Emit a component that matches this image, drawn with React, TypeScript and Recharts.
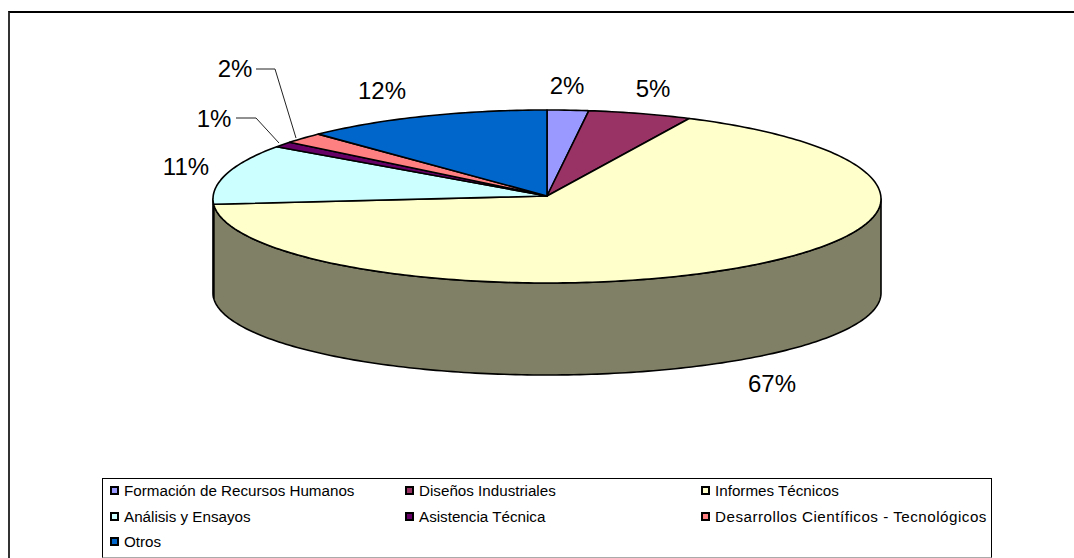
import { Pie, PieChart, Legend } from "recharts";

const categories = [
  "Formación de Recursos Humanos",
  "Diseños Industriales",
  "Informes Técnicos",
  "Análisis y Ensayos",
  "Asistencia Técnica",
  "Desarrollos Científicos - Tecnológicos",
  "Otros",
];
const shares = [2, 5, 67, 11, 1, 2, 12];
const topColors = ["#9999FF", "#993366", "#FFFFCC", "#CCFFFF", "#660066", "#FF8080", "#0066CC"];
const wallColors = ["#4D4D80", "#4D1A33", "#808066", "#808066", "#330033", "#804040", "#003366"];

const data = categories.map((name, i) => ({
  name,
  value: shares[i],
  fill: topColors[i],
  wall: wallColors[i],
}));

// disc geometry in page pixels, the back of the rim bulges a bit more than the front
const CX = 547;
const TIP_Y = 196;
const RIM_Y = 199;
const RX = 334;
const RY_BACK = 89;
const RY_FRONT = 84;
const WALL_Y = 293;
const RY_WALL = 82;

const FONT = "'Liberation Sans', Arial, sans-serif";

// where each percentage sits, and its leader line if it has one
const labelSpots = [
  { x: 567, y: 85 },
  { x: 653, y: 88 },
  { x: 772, y: 383 },
  { x: 186, y: 166 },
  { x: 214, y: 118, line: "M236,118 L256,118 L279,143" },
  { x: 235, y: 68, line: "M256,69 L275,69 L296,138" },
  { x: 382, y: 90 },
];

const RAD = Math.PI / 180;

function rimPoint(deg: number) {
  const s = Math.sin(deg * RAD);
  return [CX + RX * Math.cos(deg * RAD), RIM_Y - s * (s > 0 ? RY_BACK : RY_FRONT)];
}

function wallPoint(deg: number) {
  return [CX + RX * Math.cos(deg * RAD), WALL_Y - RY_WALL * Math.sin(deg * RAD)];
}

// walks an angle range in small steps, angles run clockwise so they go down
function trace(from: number, to: number, point: (deg: number) => number[]) {
  const pts: string[] = [];
  const sign = to > from ? 1 : -1;
  for (let a = from; sign * (to - a) > 0; a += sign) pts.push(point(a).join(","));
  pts.push(point(to).join(","));
  return pts;
}

// Recharts hands out circular sectors, this flattens them into the top of the disc
function TopSlice(props: any) {
  const { startAngle, endAngle, fill } = props;
  const d = `M${CX},${TIP_Y} L${trace(startAngle, endAngle, rimPoint).join(" L")} Z`;
  return <path d={d} fill={fill} stroke="#000" strokeWidth={1.6} strokeLinejoin="round" />;
}

// only the part of a slice on the front half of the disc shows a wall
function WallSlice(props: any) {
  const { startAngle, endAngle, payload } = props;
  const from = Math.min(startAngle, 0);
  const to = Math.max(endAngle, -180);
  if (from <= to) return null;
  const d = `M${trace(from, to, rimPoint).join(" L")} L${trace(to, from, wallPoint).join(" L")} Z`;
  return <path d={d} fill={payload.wall} stroke="#000" strokeWidth={1.6} strokeLinejoin="round" />;
}

function PercentLabel(props: any) {
  const spot = labelSpots[props.index];
  return (
    <g>
      {spot.line && <path d={spot.line} fill="none" stroke="#222" strokeWidth={1} />}
      <text x={spot.x} y={spot.y} textAnchor="middle" dominantBaseline="central" fontFamily={FONT} fontSize={24} fill="#000">
        {`${props.value}%`}
      </text>
    </g>
  );
}

function LegendBox(props: any) {
  const items = ((props.payload ?? []) as any[]).filter((item) => item.type !== "none");
  return (
    <div
      style={{
        boxSizing: "border-box",
        width: 890,
        height: 80,
        borderTop: "1px solid #000",
        borderLeft: "1px solid #000",
        borderRight: "1px solid #000",
        borderBottom: "1px solid #aaa",
        display: "grid",
        gridTemplateColumns: "295px 296px 1fr",
        gridAutoRows: "25.5px",
        paddingLeft: 7,
        fontFamily: FONT,
        fontSize: 15.2,
        color: "#000",
      }}
    >
      {items.map((item) => (
        <div
          key={item.value}
          style={{
            display: "flex",
            alignItems: "center",
            whiteSpace: "nowrap",
            marginTop: -2,
            // the long entry is set wider than the others
            letterSpacing: item.value === categories[5] ? 0.5 : 0,
          }}
        >
          <span
            style={{
              boxSizing: "border-box",
              width: 9,
              height: 9,
              marginRight: 5,
              border: "2px solid #000",
              background: item.color,
            }}
          />
          {item.value}
        </div>
      ))}
    </div>
  );
}

export default function App() {
  return (
    <div style={{ position: "absolute", left: 0, top: 0, width: 1074, height: 558, background: "#fff", overflow: "hidden" }}>
      <div
        style={{
          position: "absolute",
          left: 8,
          top: 11,
          width: 1100,
          height: 600,
          borderLeft: "2px solid #333",
          borderTop: "2px solid #000",
        }}
      />
      <PieChart width={1074} height={558} style={{ position: "absolute", left: 0, top: 0 }}>
        <Pie
          data={data}
          dataKey="value"
          nameKey="name"
          cx={CX}
          cy={TIP_Y}
          outerRadius={RX}
          startAngle={90}
          endAngle={-270}
          stroke="none"
          legendType="none"
          shape={WallSlice}
          isAnimationActive={false}
        />
        <Pie
          data={data}
          dataKey="value"
          nameKey="name"
          cx={CX}
          cy={TIP_Y}
          outerRadius={RX}
          startAngle={90}
          endAngle={-270}
          shape={TopSlice}
          label={PercentLabel}
          labelLine={false}
          isAnimationActive={false}
        />
        <Legend
          content={LegendBox}
          itemSorter={null}
          wrapperStyle={{ position: "absolute", left: 102, top: 478, width: 890 }}
        />
      </PieChart>
    </div>
  );
}
